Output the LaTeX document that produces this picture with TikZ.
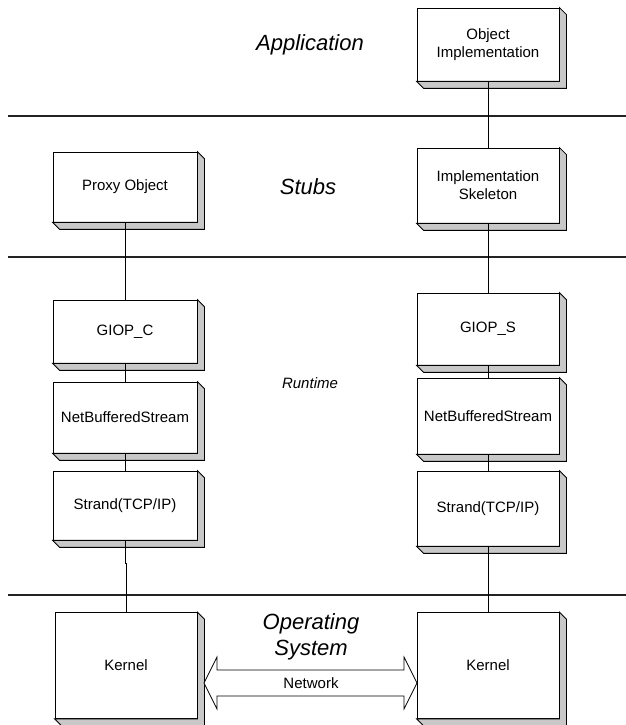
\documentclass[tikz,border=0pt]{standalone}
\usepackage{fontspec}
\setmainfont{Liberation Sans}
\usetikzlibrary{calc}
\definecolor{bevelgray}{RGB}{200,200,200}
\definecolor{rulegray}{RGB}{35,35,35}

\begin{document}
\begin{tikzpicture}[x=1pt, y=1pt,
    layer/.style={draw, fill=white, line width=0.8pt, inner sep=0pt, align=center,
        minimum width=142pt, font=\fontsize{15}{18}\selectfont},
    bevel/.style={draw, fill=bevelgray, line width=0.8pt, line join=miter},
    tier/.style={font=\itshape\fontsize{22}{26}\selectfont, align=center},
    sep/.style={draw=rulegray, line width=2.6pt},
    link/.style={draw, line width=0.7pt}]
    \useasboundingbox (0,0) rectangle (626,725);

    % layer separators
    \draw[sep] (8,609) -- (626,609);
    \draw[sep] (8,468) -- (626,468);
    \draw[sep] (8,130) -- (626,130);

    % layer names
    \node[tier] (app) at (310,680) {Application};
    \node[tier] (stubs) at (308,538) {Stubs};
    \node[font=\itshape\fontsize{15}{18}\selectfont] (runtime) at (310,342) {Runtime};
    \node[tier] (os) at (311,88) {Operating\\System};

    % client side
    \node[layer, minimum width=144pt, minimum height=70pt] (proxy) at (125,538) {Proxy Object};
    \node[layer, minimum width=144pt, minimum height=63pt] (giopc) at (125,393.5) {GIOP\_C};
    \node[layer, minimum width=144pt, minimum height=71pt] (nbsc) at (125,307.5) {NetBufferedStream};
    \node[layer, minimum width=144pt, minimum height=69pt] (strandc) at (125,219.5) {Strand(TCP/IP)};
    \node[layer, minimum height=106pt] (kernelc) at (126,59.5) {Kernel};

    % server side
    \node[layer, minimum height=73pt] (objimpl) at (488,680.5) {Object\\Implementation};
    \node[layer, minimum height=75pt] (skel) at (488,539.5) {Implementation\\Skeleton};
    \node[layer, minimum height=72pt] (giops) at (488,396) {GIOP\_S};
    \node[layer, minimum height=76pt] (nbss) at (488,309) {NetBufferedStream};
    \node[layer, minimum height=75pt] (strands) at (488,216.5) {Strand(TCP/IP)};
    \node[layer, minimum height=106pt] (kernels) at (488,59.5) {Kernel};

    \foreach \n in {proxy,giopc,nbsc,strandc,kernelc,objimpl,skel,giops,nbss,strands,kernels}
        \draw[bevel] (\n.south west) -- ++(7,-7) -- ($(\n.south east)+(7,-7)$)
            -- ($(\n.north east)+(7,-7)$) -- (\n.north east) -- (\n.south east) -- cycle;

    % stack connections
    \draw[link] (proxy) -- (giopc);
    \draw[link] (giopc) -- (nbsc);
    \draw[link] (nbsc) -- (strandc);
    \draw[link] (strandc.south) -- ++(0,-23) -| (kernelc.north);
    \draw[link] (objimpl) -- (skel);
    \draw[link] (skel) -- (giops);
    \draw[link] (giops) -- (nbss);
    \draw[link] (nbss) -- (strands);
    \draw[link] (strands) -- (kernels);

    % network
    \draw[line width=0.7pt, fill=white] (204,42) -- (217,68) -- (217,55) -- (404,55) -- (404,68)
        -- (417,42) -- (404,16) -- (404,29) -- (217,29) -- (217,16) -- cycle;
    \node[font=\fontsize{15}{18}\selectfont] (net) at (311,42) {Network};
\end{tikzpicture}
\end{document}
